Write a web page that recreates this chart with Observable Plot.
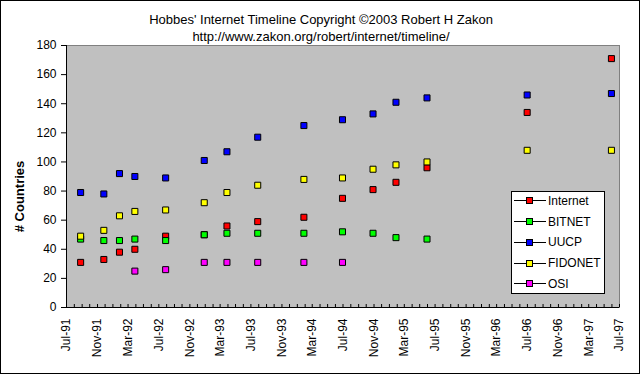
<!DOCTYPE html>
<html><head><meta charset="utf-8">
<script src="https://cdn.jsdelivr.net/npm/d3@7"></script>
<script src="https://cdn.jsdelivr.net/npm/@observablehq/plot@0.6"></script>
<style>
body{margin:0;background:#fff;}
#wrap{position:relative;width:641px;height:375px;font-family:"Liberation Sans",Arial,sans-serif;}
#wrap svg{display:block;}
#border{position:absolute;left:0;top:0;width:638px;height:372px;border:1px solid #000;pointer-events:none;}
#legend{position:absolute;left:511px;top:191px;width:92px;height:101px;background:#fff;border:1px solid #000;font-size:12px;color:#000;}
.row{position:absolute;left:0;height:19px;display:flex;align-items:center;white-space:nowrap;}
.row svg{flex:none;}
.row span{margin-left:1px;}
</style></head><body><div id="wrap"></div>
<script>
// ---- titles ----
const title1 = "Hobbes' Internet Timeline Copyright \u00A92003 Robert H Zakon";
const title2 = "http://www.zakon.org/robert/internet/timeline/";
const yTitle = "# Countries";

// ---- data ----
const dates = ["1991-08-26","1991-11-26","1992-01-27","1992-03-28","1992-07-28","1992-12-28","1993-03-28","1993-07-28","1994-01-27","1994-06-29","1994-10-28","1995-01-27","1995-05-30","1996-06-30","1997-05-30"];
const internet = [31, 33, 38, 40, 49, 50, 56, 59, 62, 75, 81, 86, 96, 134, 171];
const bitnet   = [47, 46, 46, 47, 46, 50, 51, 51, 51, 52, 51, 48, 47, null, null];
const uucp     = [79, 78, 92, 90, 89, 101, 107, 117, 125, 129, 133, 141, 144, 146, 147];
const fidonet  = [49, 53, 63, 66, 67, 72, 79, 84, 88, 89, 95, 98, 100, 108, 108];
const osi      = [null, null, null, 25, 26, 31, 31, 31, 31, 31, null, null, null, null, null];

const seriesNames  = ["Internet", "BITNET", "UUCP", "FIDONET", "OSI"];
const seriesValues = [internet, bitnet, uucp, fidonet, osi];
const seriesColors = ["#ff0000", "#00ff00", "#0000ff", "#ffff00", "#ff00ff"];

// ---- tick labels ----
const xTickLabels = ["Jul-91","Nov-91","Mar-92","Jul-92","Nov-92","Mar-93","Jul-93","Nov-93","Mar-94","Jul-94","Nov-94","Mar-95","Jul-95","Nov-95","Mar-96","Jul-96","Nov-96","Mar-97","Jul-97"];
const yTicks = [0, 20, 40, 60, 80, 100, 120, 140, 160, 180];

// ---- build ----
const parseLabel = d3.utcParse("%b-%y");
const parseDate = d3.utcParse("%Y-%m-%d");
const labelDates = xTickLabels.map(parseLabel);
const xDomain = [labelDates[0], labelDates[labelDates.length - 1]];
const monthTicks = d3.utcMonth.range(xDomain[0], d3.utcMonth.offset(xDomain[1], 1));

const rows = [];
seriesNames.forEach((name, s) => {
  seriesValues[s].forEach((v, i) => {
    if (v != null) rows.push({series: name, date: parseDate(dates[i]), value: v, color: seriesColors[s]});
  });
});

const W = 641, H = 375, mT = 45, mB = 68, mL = 66, mR = 22;
const plotH = H - mT - mB;

const chart = Plot.plot({
  width: W, height: H,
  marginTop: mT, marginBottom: mB, marginLeft: mL, marginRight: mR,
  style: {fontFamily: "'Liberation Sans', Arial, sans-serif", fontSize: "12px", background: "#fff", color: "#000"},
  x: {type: "utc", domain: xDomain},
  y: {domain: [0, 180]},
  color: {type: "identity"},
  marks: [
    Plot.frame({fill: "#c0c0c0"}),
    Plot.frame({stroke: "#808080"}),
    Plot.tickX(monthTicks, {x: d => d, insetTop: plotH - 3, stroke: "#000"}),
    Plot.ruleY([0], {stroke: "#000"}),
    Plot.ruleX([xDomain[0]], {stroke: "#000"}),
    Plot.axisY(yTicks, {tickSize: 5, tickPadding: 5, label: null}),
    Plot.axisX(labelDates, {tickSize: 0, tickRotate: -90, tickPadding: 11, tickFormat: d3.utcFormat("%b-%y"), label: null}),
    Plot.dot(rows, {x: "date", y: "value", fill: "color", stroke: "#000", strokeWidth: 1, symbol: "square", r: 3.4}),
    Plot.text([yTitle], {frameAnchor: "left", dx: -47, dy: 20, rotate: -90, fontWeight: "bold", fontSize: 13, textAnchor: "middle", lineAnchor: "middle"}),
    Plot.text([title1], {frameAnchor: "top", dx: -22, dy: -26, fontSize: 13, textAnchor: "middle", lineAnchor: "middle"}),
    Plot.text([title2], {frameAnchor: "top", dx: -22, dy: -9, fontSize: 13, textAnchor: "middle", lineAnchor: "middle"})
  ]
});

const wrap = document.getElementById("wrap");
wrap.appendChild(chart);

// legend
const legend = document.createElement("div");
legend.id = "legend";
const rowCenters = [8.7, 29.5, 50.3, 71.1, 91.9];
seriesNames.forEach((name, s) => {
  const row = document.createElement("div");
  row.className = "row";
  row.style.top = (rowCenters[s] - 9.5) + "px";
  row.innerHTML = `<svg width="35" height="19"><line x1="2" x2="34" y1="9.5" y2="9.5" stroke="#000"/><rect x="14.5" y="6.5" width="6" height="6" fill="${seriesColors[s]}" stroke="#000"/></svg><span>${name}</span>`;
  legend.appendChild(row);
});
wrap.appendChild(legend);

const border = document.createElement("div");
border.id = "border";
wrap.appendChild(border);
</script>
</body></html>
